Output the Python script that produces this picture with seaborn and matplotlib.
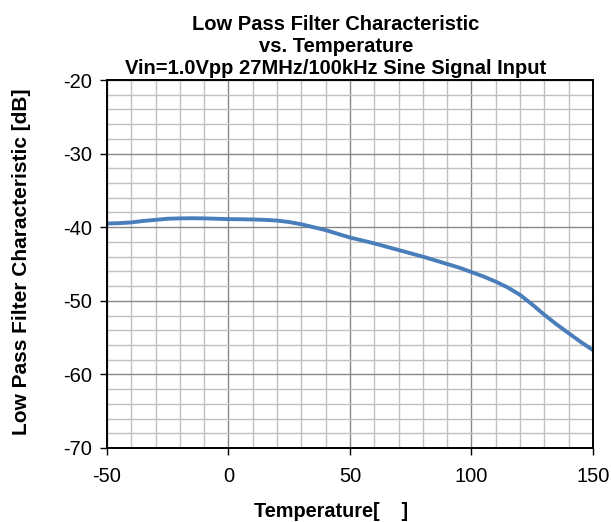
import numpy as np
import pandas as pd
import seaborn as sns
from matplotlib import pyplot as plt
from matplotlib.ticker import MultipleLocator

# data (every 5 degrees)
temperature = [-50, -45, -40, -35, -30, -25, -20, -15, -10, -5, 0,
               5, 10, 15, 20, 25, 30, 35, 40, 45, 50,
               55, 60, 65, 70, 75, 80, 85, 90, 95, 100,
               105, 110, 115, 120, 125, 130, 135, 140, 145, 150]
lpf_db = [-39.5, -39.45, -39.35, -39.15, -39.0, -38.85, -38.8, -38.78, -38.8, -38.85, -38.9,
          -38.92, -38.95, -39.0, -39.1, -39.3, -39.6, -40.0, -40.4, -40.9, -41.4,
          -41.8, -42.2, -42.65, -43.1, -43.55, -44.0, -44.5, -45.0, -45.5, -46.1,
          -46.7, -47.4, -48.2, -49.2, -50.5, -51.9, -53.2, -54.4, -55.6, -56.7]

title = ("Low Pass Filter Characteristic\n"
         "vs. Temperature\n"
         "Vin=1.0Vpp 27MHz/100kHz Sine Signal Input")
x_label = "Temperature[    ]"
y_label = "Low Pass Filter Characteristic [dB]"

sns.set_theme(style="white")
plt.rcParams['font.family'] = ['Liberation Sans', 'DejaVu Sans']
plt.rcParams['axes.unicode_minus'] = False
plt.rcParams['text.color'] = 'black'
plt.rcParams['axes.labelcolor'] = 'black'
plt.rcParams['xtick.color'] = 'black'
plt.rcParams['ytick.color'] = 'black'

df = pd.DataFrame({"temp": temperature, "db": lpf_db})

fig = plt.figure(figsize=(6.11, 5.22), dpi=100)
ax = fig.add_axes([0.175, 0.1418, 0.7955, 0.7049])

ax.xaxis.set_major_locator(MultipleLocator(50))
ax.xaxis.set_minor_locator(MultipleLocator(10))
ax.yaxis.set_major_locator(MultipleLocator(10))
ax.yaxis.set_minor_locator(MultipleLocator(2))
ax.grid(which='minor', color='#c0c0c0', linewidth=1.0)
ax.grid(which='major', color='#878787', linewidth=1.0)
ax.set_axisbelow(True)

sns.lineplot(data=df, x="temp", y="db", ax=ax, color='#4a7ebb', linewidth=2.8)

ax.set_xlim(-50, 150)
ax.set_ylim(-70, -20)

for s in ax.spines.values():
    s.set_color('black')
    s.set_linewidth(1.4)

ax.tick_params(which='major', direction='out', length=5, width=1.0, color='black',
               labelsize=14.5, bottom=True, left=True)
ax.tick_params(axis='x', pad=9)
ax.tick_params(axis='y', pad=6)
ax.tick_params(which='minor', length=0)

ax.set_xlabel(x_label, fontsize=14.3, fontweight='bold')
ax.xaxis.set_label_coords(0.461, -0.148)
ax.set_ylabel(y_label, fontsize=15, fontweight='bold')
ax.yaxis.set_label_coords(-0.157, 0.505)
ax.set_title(title, fontsize=14.5, fontweight='bold', linespacing=1.2, pad=4, x=0.471)

fig.savefig("out.png", dpi=100)
